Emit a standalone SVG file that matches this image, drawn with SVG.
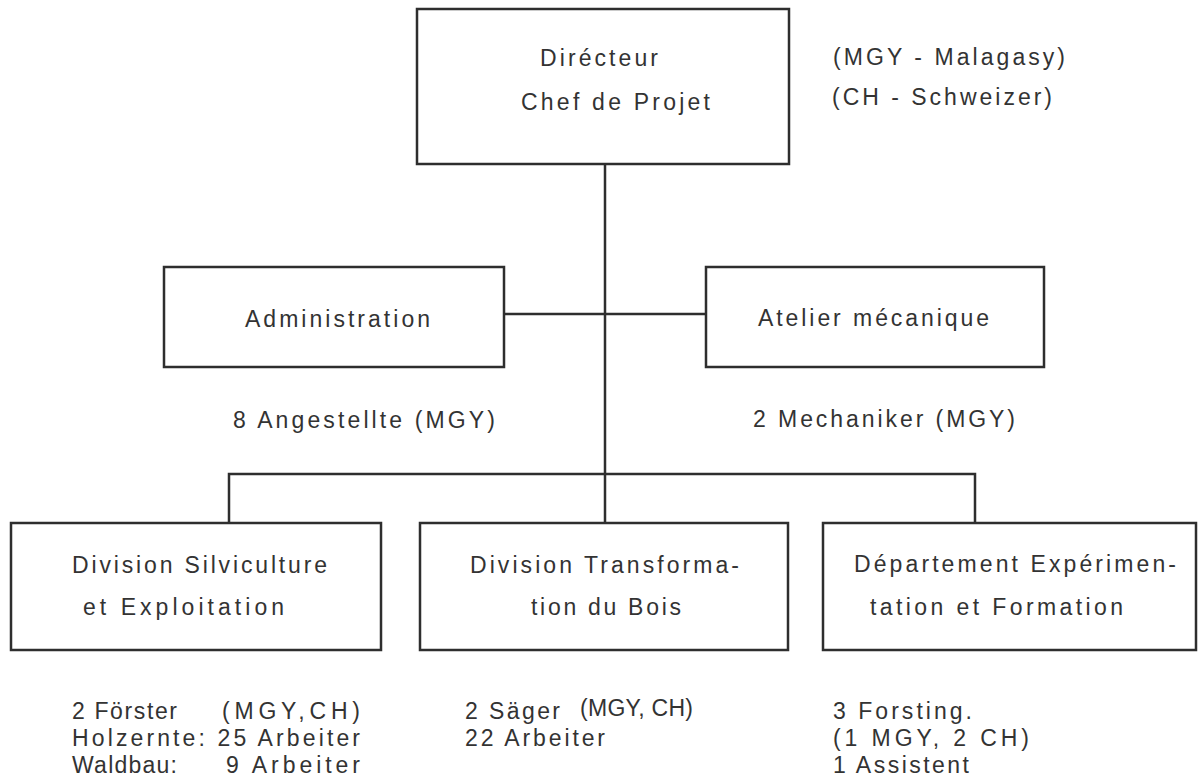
<svg xmlns="http://www.w3.org/2000/svg" width="1198" height="778" viewBox="0 0 1198 778">
<style>
.box{fill:none;stroke:#2e2e2e;stroke-width:2.5}
.ln{fill:none;stroke:#2e2e2e;stroke-width:2.5}
text{font-family:"Liberation Sans",Arial,sans-serif;font-size:23px;fill:#333}
</style>
<rect width="1198" height="778" fill="#fff"/>
<g id="connectors">
<path class="ln" d="M605 164V523"/>
<path class="ln" d="M504 314H706"/>
<path class="ln" d="M229 523V474H975V523"/>
</g>
<g id="directeur">
<rect class="box" x="417" y="9" width="372" height="155"/>
<text x="540" y="66" textLength="118" lengthAdjust="spacing">Dirécteur</text>
<text x="521" y="110" textLength="189" lengthAdjust="spacing">Chef de Projet</text>
</g>
<g id="legend">
<text x="833" y="65" textLength="232" lengthAdjust="spacing">(MGY - Malagasy)</text>
<text x="832" y="105" textLength="220" lengthAdjust="spacing">(CH - Schweizer)</text>
</g>
<g id="administration">
<rect class="box" x="164" y="267" width="340" height="100"/>
<text x="245" y="327" textLength="185" lengthAdjust="spacing">Administration</text>
<text x="233" y="428" textLength="262" lengthAdjust="spacing">8 Angestellte (MGY)</text>
</g>
<g id="atelier">
<rect class="box" x="706" y="267" width="338" height="100"/>
<text x="758" y="326" textLength="231" lengthAdjust="spacing">Atelier mécanique</text>
<text x="753" y="427" textLength="262" lengthAdjust="spacing">2 Mechaniker (MGY)</text>
</g>
<g id="silviculture">
<rect class="box" x="11" y="523" width="370" height="127"/>
<text x="72" y="573" textLength="255" lengthAdjust="spacing">Division Silviculture</text>
<text x="83" y="615" textLength="201" lengthAdjust="spacing">et Exploitation</text>
<text x="72" y="719" textLength="105" lengthAdjust="spacing">2 Förster</text>
<text x="222" y="719" textLength="138" lengthAdjust="spacing">(MGY,CH)</text>
<text x="72" y="746" textLength="288" lengthAdjust="spacing">Holzernte: 25 Arbeiter</text>
<text x="72" y="773" textLength="105" lengthAdjust="spacing">Waldbau:</text>
<text x="226" y="773" textLength="134" lengthAdjust="spacing">9 Arbeiter</text>
</g>
<g id="transformation">
<rect class="box" x="420" y="523" width="368" height="127"/>
<text x="470" y="573" textLength="269" lengthAdjust="spacing">Division Transforma-</text>
<text x="531" y="615" textLength="150" lengthAdjust="spacing">tion du Bois</text>
<text x="465" y="719" textLength="95" lengthAdjust="spacing">2 Säger</text>
<text x="580" y="716" textLength="113" lengthAdjust="spacing">(MGY, CH)</text>
<text x="465" y="746" textLength="140" lengthAdjust="spacing">22 Arbeiter</text>
</g>
<g id="experimentation">
<rect class="box" x="823" y="523" width="373" height="127"/>
<text x="854" y="572" textLength="322" lengthAdjust="spacing">Département Expérimen-</text>
<text x="870" y="615" textLength="253" lengthAdjust="spacing">tation et Formation</text>
<text x="833" y="719" textLength="139" lengthAdjust="spacing">3 Forsting.</text>
<text x="833" y="746" textLength="196" lengthAdjust="spacing">(1 MGY, 2 CH)</text>
<text x="833" y="773" textLength="136" lengthAdjust="spacing">1 Assistent</text>
</g>
</svg>
